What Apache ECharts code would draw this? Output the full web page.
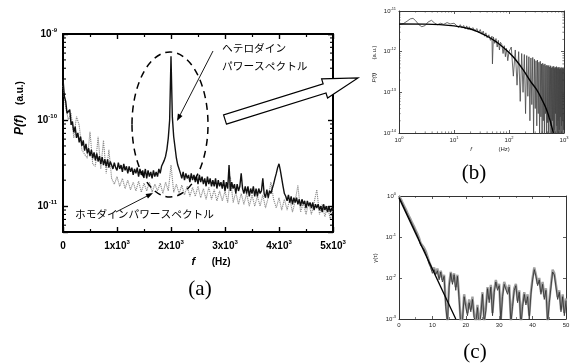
<!DOCTYPE html>
<html><head><meta charset="utf-8">
<script src="https://cdn.jsdelivr.net/npm/echarts@6/dist/echarts.min.js"></script>
<style>html,body{margin:0;padding:0;background:#fff}#c{width:574px;height:363px}</style>
</head><body><div id="c"></div><script>
// ---------- (a) power spectra, values in units of 1e-12 a.u. ----------
const aHeteroStepHz = 25;   // heterodyne sampled every 25 Hz, 0..5000
const aHetero = [
 300,190,165,120,118,132,88,96, 72,84,62,71,55,64,50,58, 44,53,41,47,38,45,36,42,
 34,41,33,38,31,37,30,35, 29,35,28,33,30,27,32,28, 26,32,27,30,25,31,26,29,
 24,29,25,28,23,27,24,28, 22,27,23,26,22,27,21,26, 22,25,21,26,22,25,22,27,
 24,29,28,34,38,46,62,100, 550,108,64,48,36,30,27,24, 21,25,20,24,21,23,19,24,
 20,23,19,22,18,23,19,22, 18,21,17,22,18,21,17,20, 17,21,16,20,17,19,16,20,
 15,19,16,30,15,19,16,18, 14,18,15,17,24,16,14,17, 14,17,13,16,14,17,13,16,
 13,16,14,15,21,14,12.5,15.5, 12.5,15,14,16,18,21,24,28, 31,26,21,17,14,13,11.5,13.5,
 11,13,10.5,12.5,11,12.5,10.5,12, 10,12,10.5,11.5,9.5,11.5,10,11, 9.5,11,9,10.5,9.5,10.5,9,10,
 8.5,10.5,9,10,8.5,10,8.5,9.5, 9];
const aHomoStepHz = 50;     // homodyne sampled every 50 Hz, 0..5000
const aHomo = [
 250,140,100,120,62,110,87,45, 40,36,73,31,29,64,27,58, 24,45,21,18,22,17,21,16,
 20,15.5,19,15,19.5,14.5,18.5,15, 19,14.5,18,15,18.5,14,19,15, 30,14.5,18,14,17.5,13.5,17,13,
 16.5,13,17,12.5,16,12,16.5,12, 15.5,11.5,15,11.5,15,11,22,11, 14.5,10.5,14,10.5,14,10,13.5,10,
 13,10,13.5,9.5,12.5,19,12,9.5, 12.5,9,12,9,12,8.5,11.5,17.5, 8.5,11,8,11,8,11,15.5,8,
 10.5,7.5,10,7,9.5];

// ---------- (b) P(f), log-log, values in units of 1e-12 a.u. ----------
const bFreq = [1,1.2,1.4,1.6,1.8,2,2.3,2.6,3,3.4,3.9,4.4,5,5.7,6.5,7.5,8.5,10,
 11,12,13,14,15,16,17,18,19,20,22,24,26,28,30,32,34,36,38,40,
 43,46,49,50,52,55,58,61,64,67,70,74,78,82,86,90,95,100,
 110,120,130,140,150,160,170,180,190,200,210,220,230,240,250,260,270,280,290,300,
 310,320,330,340,350,360,370,380,390,400,410,420,430,440,450,460,470,480,490,500,
 510,520,530,540,550,560,570,580,590,600,610,620,630,640,650,660,670,680,690,700,
 710,720,730,740,750,760,770,780,790,800,810,820,830,840,850,860,870,880,890,900,
 910,920,930,940,950,960,970,980,990,1000];
const bPow = [4.6,4.9,5.6,6.4,6.6,5.8, 4.6,4.1,4.4,5.4,5.9,5.1, 4.6,5.0,4.7,5.2,4.8,5.0,
 4.5,3.9,4.6,3.8,4.4,3.6,4.3,3.5,4.1,3.4, 3.9,3.2,3.7,2.9,3.5,2.7,3.2,2.4,2.9,2.2,
 2.6,1.9,2.4,0.5,2.3,1.6,2.1,1.3,1.9,1.1,1.7, 1.5,0.9,1.4,0.75,1.2,0.6,1.0,
 1.3,0.25,1.1,0.15,1.0,0.06,0.9,0.1,0.85,0.03, 0.8,0.08,0.75,0.02,0.7,0.05,0.72,0.01,0.65,0.04,
 0.6,0.015,0.62,0.03,0.55,0.008,0.58,0.025,0.5,0.005, 0.52,0.02,0.48,0.006,0.5,0.03,0.45,0.004,0.47,0.018,
 0.44,0.005,0.46,0.025,0.42,0.004,0.45,0.015,0.4,0.005, 0.43,0.02,0.41,0.004,0.44,0.012,0.39,0.005,0.42,0.03,
 0.4,0.004,0.43,0.015,0.38,0.005,0.41,0.02,0.39,0.004, 0.42,0.012,0.37,0.005,0.4,0.025,0.38,0.004,0.41,0.015,
 0.36,0.005,0.4,0.02,0.37,0.004,0.39,0.012,0.38,0.3];
const bFitFreq = [1,3,10,20,30,45,60,80,100,130,180,250,320,400,480,560,640];
const bFitPow = [4.8,4.75,4.3,3.6,2.9,2.2,1.7,1.25,0.95,0.65,0.36,0.18,0.115,0.065,0.038,0.02,0.01];

// ---------- (c) gamma(tau), sampled every 0.5 ----------
const cStep = 0.5;
const cDark = [0.95,0.80,0.66,0.54,0.44,0.36,0.30,0.245,0.2,0.165,
 0.135,0.11,0.085,0.062,0.058,0.05,0.04,0.03,0.022,0.018,
 0.013,0.016,0.012,0.015,0.009,0.014,0.008,0.011,0.002,0.0008,
 0.006,0.013,0.007,0.012,0.005,0.011,0.003,0.0007,0.0009,0.0035,
 0.002,0.0012,0.0025,0.0015,0.003,0.0011,0.0008,0.0019,0.0006,0.0013,
 0.004,0.0008,0.0016,0.0055,0.0025,0.006,0.0012,0.0045,0.008,0.005,
 0.0065,0.0009,0.0035,0.007,0.0075,0.004,0.006,0.0008,0.002,0.005,
 0.0065,0.0025,0.0045,0.0007,0.002,0.004,0.0022,0.0035,0.001,0.004,
 0.009,0.016,0.011,0.0065,0.009,0.004,0.007,0.003,0.005,0.0008,
 0.0025,0.006,0.014,0.012,0.006,0.003,0.0045,0.0015,0.0035,0.0012,
 0.0028];
const cGray = [1.0,0.85,0.7,0.58,0.48,0.39,0.32,0.265,0.215,0.18,
 0.145,0.12,0.095,0.07,0.066,0.055,0.045,0.034,0.025,0.02,
 0.015,0.018,0.013,0.017,0.01,0.015,0.009,0.012,0.0025,0.0009,
 0.007,0.014,0.008,0.013,0.006,0.012,0.0035,0.0008,0.001,0.004,
 0.0024,0.0014,0.003,0.0017,0.0035,0.0012,0.0009,0.0022,0.0007,0.0015,
 0.0045,0.0009,0.0018,0.006,0.003,0.0068,0.0014,0.005,0.009,0.0056,
 0.0072,0.001,0.004,0.008,0.0085,0.0045,0.0068,0.0009,0.0023,0.0056,
 0.0072,0.0028,0.005,0.0008,0.0023,0.0045,0.0025,0.004,0.0012,0.0045,
 0.01,0.018,0.012,0.0072,0.01,0.0045,0.008,0.0034,0.0056,0.0009,
 0.0028,0.0068,0.016,0.013,0.0068,0.0034,0.005,0.0017,0.004,0.0014,
 0.0032];
const cFitTau = [0, 17];
const cFitVal = [0.9, 0.001];

// ---------- tick labels ----------
const aXTickLabels = ['0','1x10','2x10','3x10','4x10','5x10'];

const SANS = 'Liberation Sans, Arial, sans-serif';
const U = 1e-12;
const pairs = (xs, ys, k) => ys.map((v, i) => [xs[i], v * k]);
const grid = (step, ys, k) => ys.map((v, i) => [i * step, v * k]);

const GA = {left: 63, top: 34, width: 270, height: 198};
const GB = {left: 399, top: 11, width: 165, height: 122};
const GC = {left: 399, top: 196, width: 167, height: 123};

const richBig = {
  b: {fontFamily: SANS, fontSize: 10, fontWeight: 'bold', color: '#000', lineHeight: 14},
  s: {fontFamily: SANS, fontSize: 6, fontWeight: 'bold', color: '#000', verticalAlign: 'top', lineHeight: 7}
};
const richSmall = {
  b: {fontFamily: SANS, fontSize: 6, color: '#222', lineHeight: 9},
  s: {fontFamily: SANS, fontSize: 4, color: '#222', verticalAlign: 'top', lineHeight: 5}
};
function logFmt(v) {
  const e = Math.log10(v), r = Math.round(e);
  if (Math.abs(e - r) > 1e-6) return '';
  return '{b|10}{s|' + r + '}';
}
function bigAxis(extra) {
  return Object.assign({
    axisLine: {show: true, onZero: false, lineStyle: {color: '#000', width: 2}},
    axisTick: {show: true, inside: true, length: 5, lineStyle: {color: '#000', width: 1.4}},
    minorTick: {show: false},
    splitLine: {show: false}, minorSplitLine: {show: false}
  }, extra);
}
function smallAxis(extra) {
  return Object.assign({
    axisLine: {show: true, onZero: false, lineStyle: {color: '#333', width: 1}},
    axisTick: {show: true, inside: true, length: 3, lineStyle: {color: '#333', width: 0.8}},
    minorTick: {show: false},
    splitLine: {show: false}, minorSplitLine: {show: false}
  }, extra);
}

const xAxis = [
  bigAxis({gridIndex: 0, type: 'value', min: 0, max: 5000, interval: 1000, position: 'bottom',
    minorTick: {show: true, splitNumber: 2, length: 3, lineStyle: {color: '#000', width: 1.2}},
    axisLabel: {margin: 7, rich: richBig, formatter: v => {
      const i = Math.round(v / 1000); return i === 0 ? '{b|' + aXTickLabels[0] + '}' : '{b|' + aXTickLabels[i] + '}{s|3}'; }}}),
  bigAxis({gridIndex: 0, type: 'value', min: 0, max: 5000, interval: 1000, position: 'top',
    minorTick: {show: true, splitNumber: 2, length: 3, lineStyle: {color: '#000', width: 1.2}},
    axisLabel: {show: false}}),
  smallAxis({gridIndex: 1, type: 'log', logBase: 10, min: 1, max: 1000, position: 'bottom',
    axisLabel: {margin: 3, rich: richSmall, formatter: logFmt}}),
  smallAxis({gridIndex: 1, type: 'log', logBase: 10, min: 1, max: 1000, position: 'top',
    axisLabel: {show: false}}),
  smallAxis({gridIndex: 2, type: 'value', min: 0, max: 50, interval: 10, position: 'bottom',
    minorTick: {show: true, splitNumber: 2, length: 2, lineStyle: {color: '#333', width: 0.6}},
    axisLabel: {margin: 3, fontFamily: SANS, fontSize: 6, color: '#222'}}),
  smallAxis({gridIndex: 2, type: 'value', min: 0, max: 50, interval: 10, position: 'top',
    minorTick: {show: true, splitNumber: 2, length: 2, lineStyle: {color: '#333', width: 0.6}},
    axisLabel: {show: false}})
];
const yAxis = [
  bigAxis({gridIndex: 0, type: 'log', logBase: 10, min: 5e-12, max: 1e-9, position: 'left',
    axisLabel: {margin: 6, rich: richBig, formatter: logFmt}}),
  bigAxis({gridIndex: 0, type: 'log', logBase: 10, min: 5e-12, max: 1e-9, position: 'right',
    axisLabel: {show: false}}),
  smallAxis({gridIndex: 1, type: 'log', logBase: 10, min: 1e-14, max: 1e-11, position: 'left',
    axisLabel: {margin: 3, rich: richSmall, formatter: logFmt}}),
  smallAxis({gridIndex: 1, type: 'log', logBase: 10, min: 1e-14, max: 1e-11, position: 'right',
    axisLabel: {show: false}}),
  smallAxis({gridIndex: 2, type: 'log', logBase: 10, min: 1e-3, max: 1, position: 'left',
    axisLabel: {margin: 3, rich: richSmall, formatter: logFmt}}),
  smallAxis({gridIndex: 2, type: 'log', logBase: 10, min: 1e-3, max: 1, position: 'right',
    axisLabel: {show: false}})
];

const line = (xi, yi, data, color, width, extra) => Object.assign({
  type: 'line', xAxisIndex: xi, yAxisIndex: yi, data: data, symbol: 'none',
  lineStyle: {color: color, width: width}, silent: true, animation: false, clip: true
}, extra || {});

const series = [
  line(0, 0, grid(aHomoStepHz, aHomo, U), '#8a8a8a', 1.1, {z: 2, lineStyle: {color: '#8a8a8a', width: 1.1, type: [1.2, 0.8]}}),
  line(0, 0, grid(aHeteroStepHz, aHetero, U), '#111', 1.4, {z: 3}),
  line(2, 2, pairs(bFreq, bPow, U), '#454545', 0.8, {z: 2}),
  line(2, 2, pairs(bFitFreq, bFitPow, U), '#000', 1.4, {z: 3, smooth: 0.4}),
  line(4, 4, grid(cStep, cGray, 1), '#a0a0a0', 2.4, {z: 2}),
  line(4, 4, grid(cStep, cDark, 1), '#2a2a2a', 0.8, {z: 3}),
  line(4, 4, pairs(cFitTau, cFitVal, 1), '#000', 1.3, {z: 4})
];

// ---------- annotations ----------
function arrowHead(x1, y1, x2, y2, len, half) {
  const dx = x2 - x1, dy = y2 - y1, L = Math.hypot(dx, dy), ux = dx / L, uy = dy / L;
  const bx = x2 - ux * len, by = y2 - uy * len;
  return [[x2, y2], [bx - uy * half, by + ux * half], [bx + uy * half, by - ux * half]];
}
function hollowArrow(tx, ty, px, py, sh, hh, hl) {
  const dx = px - tx, dy = py - ty, L = Math.hypot(dx, dy), ux = dx / L, uy = dy / L;
  const nx = -uy, ny = ux;
  const bx = px - ux * hl, by = py - uy * hl;
  return [[tx + nx * sh, ty + ny * sh], [bx + nx * sh, by + ny * sh], [bx + nx * hh, by + ny * hh],
          [px, py], [bx - nx * hh, by - ny * hh], [bx - nx * sh, by - ny * sh], [tx - nx * sh, ty - ny * sh]];
}
const JP = 'Noto Sans CJK JP, sans-serif';
const SERIF = 'Liberation Serif, DejaVu Serif, serif';
const txt = (x, y, text, font, extra) => Object.assign({
  type: 'text', x: x, y: y, silent: true,
  style: Object.assign({text: text, fill: '#000', align: 'center', verticalAlign: 'middle'}, font)
}, extra || {});

const graphic = [
  {type: 'ellipse', shape: {cx: 170, cy: 124.5, rx: 38, ry: 72.5}, silent: true, z: 10,
   style: {fill: 'none', stroke: '#000', lineWidth: 1.5, lineDash: [7, 5]}},
  {type: 'line', shape: {x1: 213, y1: 51, x2: 178, y2: 119}, silent: true, z: 10, style: {stroke: '#000', lineWidth: 0.9}},
  {type: 'polygon', shape: {points: arrowHead(213, 51, 177, 121, 7, 2.6)}, silent: true, z: 10, style: {fill: '#000'}},
  {type: 'line', shape: {x1: 116, y1: 212, x2: 151, y2: 194}, silent: true, z: 10, style: {stroke: '#000', lineWidth: 0.9}},
  {type: 'polygon', shape: {points: arrowHead(116, 212, 153, 193, 7, 2.6)}, silent: true, z: 10, style: {fill: '#000'}},
  {type: 'polygon', shape: {points: hollowArrow(225, 119.5, 358, 78, 4.8, 10, 35)}, silent: true, z: 10,
   style: {fill: '#fff', stroke: '#000', lineWidth: 1.2}},
  txt(222, 48, 'ヘテロダイン', {font: '10.7px ' + JP, align: 'left'}),
  txt(222, 66, 'パワースペクトル', {font: '10.7px ' + JP, align: 'left'}),
  txt(75, 214, 'ホモダインパワースペクトル', {font: '10.7px ' + JP, align: 'left'}),
  txt(20, 108, '{i|P(f)}   {n|(a.u.)}', {rich: {
      i: {fontFamily: SANS, fontSize: 12, fontWeight: 'bold', fontStyle: 'italic'},
      n: {fontFamily: SANS, fontSize: 10, fontWeight: 'bold'}}}, {rotation: Math.PI / 2}),
  txt(211, 262, '{i|f}     {n|(Hz)}', {rich: {
      i: {fontFamily: SANS, fontSize: 11, fontWeight: 'bold', fontStyle: 'italic'},
      n: {fontFamily: SANS, fontSize: 10, fontWeight: 'bold'}}}),
  txt(374, 64, '{i|P(f)}    {n|(a.u.)}', {rich: {
      i: {fontFamily: SANS, fontSize: 6, fontStyle: 'italic', fill: '#222'},
      n: {fontFamily: SANS, fontSize: 6, fill: '#222'}}}, {rotation: Math.PI / 2}),
  txt(490, 149, '{i|f}        {n|(Hz)}', {rich: {
      i: {fontFamily: SANS, fontSize: 6, fontStyle: 'italic', fill: '#222'},
      n: {fontFamily: SANS, fontSize: 6, fill: '#222'}}}),
  txt(375, 258, 'γ(τ)', {font: '6px ' + SANS, fill: '#222'}, {rotation: Math.PI / 2}),
  txt(200, 289, '(a)', {font: '21px ' + SERIF}),
  txt(474, 173, '(b)', {font: '21px ' + SERIF}),
  txt(475, 352, '(c)', {font: '21px ' + SERIF})
];

const chart = echarts.init(document.getElementById('c'));
chart.setOption({
  animation: false,
  backgroundColor: '#fff',
  grid: [
    Object.assign({containLabel: false, outerBoundsMode: 'none'}, GA),
    Object.assign({containLabel: false, outerBoundsMode: 'none'}, GB),
    Object.assign({containLabel: false, outerBoundsMode: 'none'}, GC)
  ],
  xAxis: xAxis, yAxis: yAxis, series: series, graphic: graphic
});

// ---------- log minor ticks (2..9 per decade), placed through the axis scales ----------
const minorMant = [2, 3, 4, 5, 6, 7, 8, 9];
function logMinors(lo, hi) {
  const out = [];
  for (let d = Math.floor(Math.log10(lo)); d < Math.ceil(Math.log10(hi)); d++)
    minorMant.forEach(m => { const v = m * Math.pow(10, d); if (v > lo * 1.0001 && v < hi * 0.9999) out.push(v); });
  return out;
}
const extra = [];
function yMinors(axisIdx, g, lo, hi, len, color, w) {
  logMinors(lo, hi).forEach(v => {
    const y = chart.convertToPixel({yAxisIndex: axisIdx}, v);
    extra.push({type: 'line', silent: true, z: 5, shape: {x1: g.left, y1: y, x2: g.left + len, y2: y}, style: {stroke: color, lineWidth: w}});
    extra.push({type: 'line', silent: true, z: 5, shape: {x1: g.left + g.width, y1: y, x2: g.left + g.width - len, y2: y}, style: {stroke: color, lineWidth: w}});
  });
}
function xMinors(axisIdx, g, lo, hi, len, color, w) {
  logMinors(lo, hi).forEach(v => {
    const x = chart.convertToPixel({xAxisIndex: axisIdx}, v);
    extra.push({type: 'line', silent: true, z: 5, shape: {x1: x, y1: g.top + g.height, x2: x, y2: g.top + g.height - len}, style: {stroke: color, lineWidth: w}});
    extra.push({type: 'line', silent: true, z: 5, shape: {x1: x, y1: g.top, x2: x, y2: g.top + len}, style: {stroke: color, lineWidth: w}});
  });
}
yMinors(0, GA, 5e-12, 1e-9, 3, '#000', 1.1);
yMinors(2, GB, 1e-14, 1e-11, 1.6, '#333', 0.6);
xMinors(2, GB, 1, 1000, 1.6, '#333', 0.6);
chart.setOption({graphic: graphic.concat(extra)});
</script></body></html>
